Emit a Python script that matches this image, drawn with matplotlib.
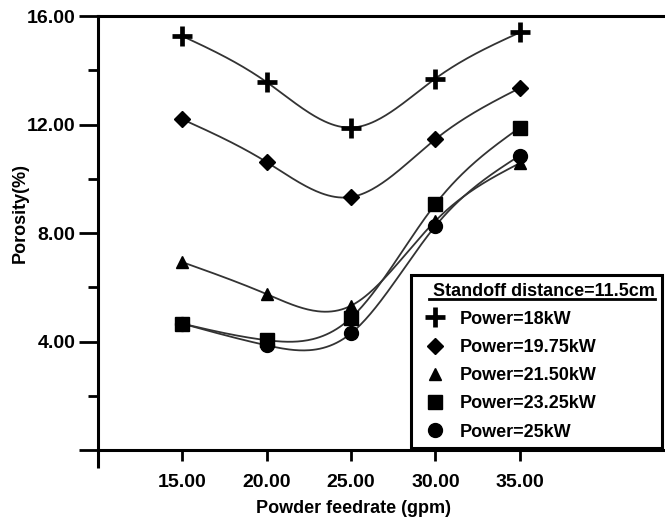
import numpy as np
import matplotlib
matplotlib.use("Agg")
import matplotlib.pyplot as plt
from matplotlib import font_manager

# Porosity vs powder feedrate, standoff distance 11.5 cm
feedrate = [15, 20, 25, 30, 35]
p18 = [15.27, 13.57, 11.89, 13.70, 15.40]
p1975 = [12.20, 10.62, 9.33, 11.46, 13.35]
p2150 = [6.93, 5.75, 5.32, 8.45, 10.58]
p2325 = [4.66, 4.05, 4.87, 9.07, 11.89]
p25 = [4.66, 3.86, 4.30, 8.26, 10.86]
labels = ["Power=18kW", "Power=19.75kW", "Power=21.50kW", "Power=23.25kW", "Power=25kW"]

names = {f.name for f in font_manager.fontManager.ttflist}
fam = ["Liberation Sans Narrow"] if "Liberation Sans Narrow" in names else []
plt.rcParams["font.family"] = fam + ["Liberation Sans", "DejaVu Sans"]
plt.rcParams["font.weight"] = "bold"


def natural_spline(x, y, n=200):
    # natural cubic spline through the measured points
    x = np.asarray(x, float)
    y = np.asarray(y, float)
    k = len(x)
    h = np.diff(x)
    A = np.zeros((k, k))
    b = np.zeros(k)
    A[0, 0] = A[-1, -1] = 1
    for i in range(1, k - 1):
        A[i, i - 1] = h[i - 1]
        A[i, i] = 2 * (h[i - 1] + h[i])
        A[i, i + 1] = h[i]
        b[i] = 6 * ((y[i + 1] - y[i]) / h[i] - (y[i] - y[i - 1]) / h[i - 1])
    m = np.linalg.solve(A, b)
    xs = np.linspace(x[0], x[-1], n)
    idx = np.clip(np.searchsorted(x, xs) - 1, 0, k - 2)
    x0, x1 = x[idx], x[idx + 1]
    hh = x1 - x0
    t0, t1 = x1 - xs, xs - x0
    ys = (m[idx] * t0 ** 3 + m[idx + 1] * t1 ** 3) / (6 * hh) \
        + (y[idx] / hh - m[idx] * hh / 6) * t0 \
        + (y[idx + 1] / hh - m[idx + 1] * hh / 6) * t1
    return xs, ys


fig = plt.figure(figsize=(6.65, 5.22), dpi=100)
ax = fig.add_axes([0.147, 0.138, 0.853, 0.831])

series = [p18, p1975, p2150, p2325, p25]
markers = [("+", 14, 3.4), ("D", 8, 1), ("^", 8, 1), ("s", 10, 1), ("o", 10, 1)]
handles = []
for vals, (mk, ms, mew), lab in zip(series, markers, labels):
    xs, ys = natural_spline(feedrate, vals)
    ax.plot(xs, ys, color="#333333", lw=1.3, zorder=2)
    h, = ax.plot(feedrate, vals, ls="none", marker=mk, ms=ms, mew=mew,
                 color="black", mfc="black", mec="black", zorder=3, label=lab)
    handles.append(h)

ax.set_xlim(10, 43.6)
ax.set_ylim(0, 16)
ax.set_xticks([15, 20, 25, 30, 35])
ax.set_xticklabels(["15.00", "20.00", "25.00", "30.00", "35.00"])
ax.set_xticks([10], minor=True)
ax.set_yticks([0, 4, 8, 12, 16])
ax.set_yticklabels(["", "4.00", "8.00", "12.00", "16.00"])
ax.set_yticks([2, 6, 10, 14], minor=True)

for s in ["left", "bottom", "top"]:
    ax.spines[s].set_linewidth(2.2)
ax.spines["right"].set_visible(False)
ax.tick_params(axis="y", which="major", length=14, width=2, pad=2, labelsize=14)
ax.tick_params(axis="y", which="minor", length=7, width=2)
ax.tick_params(axis="x", which="major", length=8, width=2, pad=9, labelsize=14)
ax.tick_params(axis="x", which="minor", length=13, width=2.2)

ax.set_xlabel("Powder feedrate (gpm)", fontsize=13, fontweight="bold")
ax.xaxis.set_label_coords(0.45, -0.116)
ax.set_ylabel("Porosity(%)", fontsize=13, fontweight="bold")
ax.yaxis.set_label_coords(-0.121, 0.546)

leg = ax.legend(handles=handles, title="Standoff distance=11.5cm",
                loc="lower left", bbox_to_anchor=(0.553, 0.005, 0.442, 0.403),
                mode="expand", fontsize=13, title_fontsize=13, frameon=True,
                fancybox=False, edgecolor="black", framealpha=1,
                handlelength=1.8, handletextpad=0.5, labelspacing=0.62,
                borderaxespad=0, alignment="right")
leg.get_frame().set_linewidth(2.2)
leg.get_title().set_fontweight("bold")

# underline beneath the legend title
fig.canvas.draw()
inv = ax.transAxes.inverted()
tb = leg.get_title().get_window_extent()
fb = leg.get_frame().get_window_extent()
(x0, y0), = inv.transform([[fb.x0 + 18, tb.y0 + 1]])
(x1, _), = inv.transform([[fb.x1 - 7, tb.y0 + 1]])
ax.plot([x0, x1], [y0, y0], transform=ax.transAxes,
        color="black", lw=2, clip_on=False, zorder=6)

fig.savefig("out.png", dpi=100)
